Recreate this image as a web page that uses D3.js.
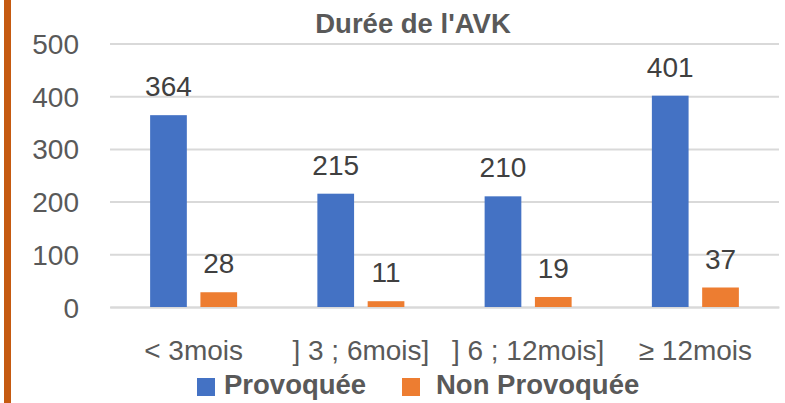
<!DOCTYPE html>
<html><head><meta charset="utf-8">
<script src="https://cdn.jsdelivr.net/npm/d3@7"></script>
<style>body{margin:0;background:#fff}svg{display:block}text{font-family:"Liberation Sans",Arial,sans-serif}</style>
</head><body><svg id="c" width="785" height="403"></svg>
<script>
const categories = ["< 3mois", "] 3 ; 6mois]", "] 6 ; 12mois]", "≥ 12mois"];
const seriesNames = ["Provoquée", "Non Provoquée"];
const provoquee = [364, 215, 210, 401];
const nonProvoquee = [28, 11, 19, 37];
const yTicks = [0, 100, 200, 300, 400, 500];
const title = "Durée de l'AVK";
const colors = ["#4472C4", "#ED7D31"];

const svg = d3.select("#c");
svg.append("rect").attr("x",4).attr("y",0).attr("width",7).attr("height",403).attr("fill","#C55A11");

const x = d3.scaleBand().domain(categories).range([110, 779]);
const y = d3.scaleLinear().domain([0, 500]).range([307, 43.5]);
const xs = d3.scaleBand().domain(seriesNames).range([x.bandwidth()/2 - 43.5, x.bandwidth()/2 + 43.5]).paddingInner(0.27);

const yAxis = svg.append("g").attr("transform","translate(110,0)")
  .call(d3.axisLeft(y).tickValues(yTicks).tickSize(-669).tickPadding(31));
yAxis.select(".domain").remove();
yAxis.selectAll("line").attr("stroke","#D9D9D9").attr("stroke-width",2);
yAxis.selectAll("text").attr("fill","#595959").style("font-size","28px").attr("dy","0.36em").style("font-family","Liberation Sans, Arial, sans-serif");

const xAxis = svg.append("g").attr("transform","translate(0,307)")
  .call(d3.axisBottom(x).tickSize(0).tickPadding(33));
xAxis.select(".domain").attr("stroke","#D9D9D9").attr("stroke-width",2);
xAxis.selectAll("text").attr("fill","#595959").style("font-size","28px").attr("dy","0.71em").style("font-family","Liberation Sans, Arial, sans-serif");

const data = categories.map((c,i)=>({cat:c, vals:[provoquee[i], nonProvoquee[i]]}));
const g = svg.selectAll("g.cat").data(data).join("g").attr("class","cat").attr("transform",d=>`translate(${x(d.cat)},0)`);
g.selectAll("rect").data(d=>d.vals.map((v,j)=>({s:seriesNames[j], v, j}))).join("rect")
  .attr("x",d=>xs(d.s)).attr("width",xs.bandwidth())
  .attr("y",d=>y(d.v)).attr("height",d=>y(0)-y(d.v)).attr("fill",d=>colors[d.j]);
g.selectAll("text.lbl").data(d=>d.vals.map((v,j)=>({s:seriesNames[j], v, j}))).join("text").attr("class","lbl")
  .attr("x",d=>xs(d.s)+xs.bandwidth()/2).attr("y",d=>y(d.v)-19).attr("text-anchor","middle")
  .attr("fill","#404040").style("font-size","28px").text(d=>d.v);

svg.append("text").attr("x",413).attr("y",33).attr("text-anchor","middle").attr("fill","#595959")
  .style("font-size","27.5px").style("font-weight","bold").text(title);

const legX = [197, 402];
const legTextX = [224, 436];
seriesNames.forEach((s,i)=>{
  svg.append("rect").attr("x",legX[i]).attr("y",378).attr("width",18).attr("height",18).attr("fill",colors[i]);
  svg.append("text").attr("x",legTextX[i]).attr("y",394).attr("fill","#595959").style("font-size","27.5px").style("font-weight","bold").text(s);
});
</script></body></html>
